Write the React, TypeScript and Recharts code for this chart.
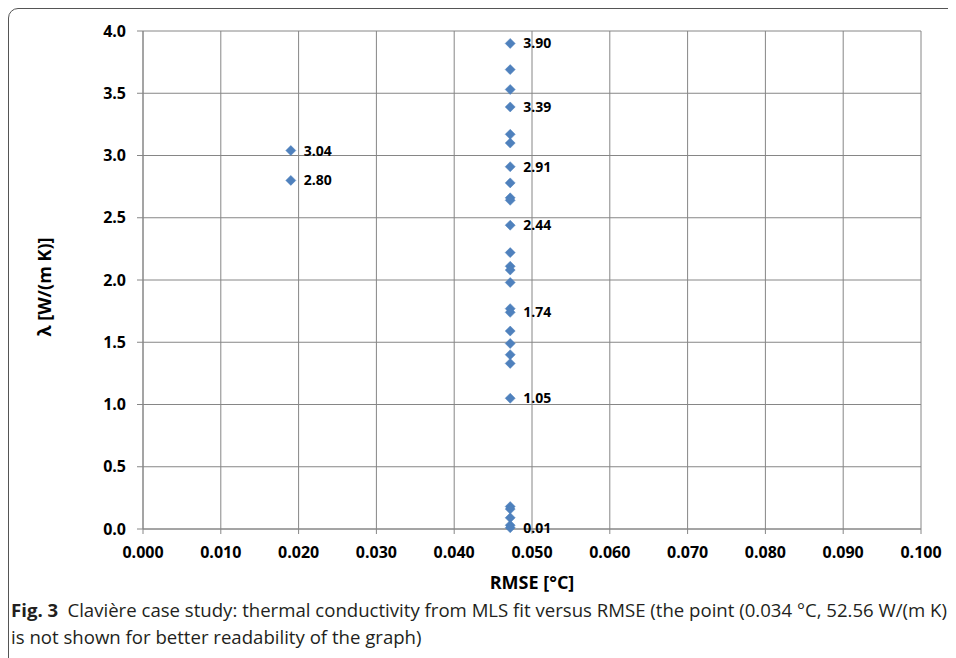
import React from "react";
import { ScatterChart, Scatter, XAxis, YAxis, CartesianGrid, Label } from "recharts";

// RMSE [°C] and lambda [W/(m K)]
const columnRmse = [
  0.0472, 0.0472, 0.0472, 0.0472, 0.0472, 0.0472, 0.0472, 0.0472, 0.0472,
  0.0472, 0.0472, 0.0472, 0.0472, 0.0472, 0.0472, 0.0472, 0.0472, 0.0472,
  0.0472, 0.0472, 0.0472, 0.0472, 0.0472, 0.0472, 0.0472, 0.0472, 0.0472,
];
const columnLambda = [
  3.9, 3.69, 3.53, 3.39, 3.17, 3.1, 2.91, 2.78, 2.66, 2.64, 2.44, 2.22, 2.11,
  2.08, 1.98, 1.77, 1.74, 1.59, 1.49, 1.4, 1.33, 1.05, 0.18, 0.16, 0.09, 0.03,
  0.01,
];
const leftRmse = [0.019, 0.019];
const leftLambda = [3.04, 2.8];

const labelledValues = [3.9, 3.39, 2.91, 2.44, 1.74, 1.05, 0.01, 3.04, 2.8];

const xTicks = [0, 0.01, 0.02, 0.03, 0.04, 0.05, 0.06, 0.07, 0.08, 0.09, 0.1];
const yTicks = [0, 0.5, 1, 1.5, 2, 2.5, 3, 3.5, 4];

const xs = [...columnRmse, ...leftRmse];
const ys = [...columnLambda, ...leftLambda];
const data = xs.map((x, i) => ({
  x,
  y: ys[i],
  label: labelledValues.includes(ys[i]) ? ys[i].toFixed(2) : "",
}));

const GRID = "#868686";
const FONT = "'Open Sans', sans-serif";
const tickStyle = { fill: "#000", fontSize: 16, fontWeight: 700, fontFamily: FONT };

const Diamond = (props: any) => {
  const { cx, cy, payload } = props;
  const r = 5;
  return (
    <g>
      <path
        d={`M${cx},${cy - r}L${cx + r},${cy}L${cx},${cy + r}L${cx - r},${cy}Z`}
        fill="#4f81bd"
        stroke="#4a7ebb"
        strokeWidth={0.5}
      />
      {payload && payload.label ? (
        <text
          x={cx + 13}
          y={cy}
          dy="0.36em"
          fill="#000"
          fontSize={14}
          fontWeight={700}
          fontFamily={FONT}
        >
          {payload.label}
        </text>
      ) : null}
    </g>
  );
};

export default function App() {
  return (
    <div style={{ position: "relative", width: 948, height: 650, overflow: "hidden" }}>
      <div
        style={{
          position: "absolute",
          left: 0,
          top: 0,
          width: 1100,
          height: 800,
          border: "1px solid #555",
          borderTopLeftRadius: 10,
          boxSizing: "border-box",
        }}
      />
      <div style={{ position: "absolute", left: 0, top: 0 }}>
        <ScatterChart
          width={948}
          height={650}
          margin={{ top: 23, right: 35, bottom: 59, left: 75 }}
        >
          <CartesianGrid stroke={GRID} strokeWidth={1} />
          <XAxis
            type="number"
            dataKey="x"
            domain={[0, 0.1]}
            ticks={xTicks}
            interval={0}
            height={70}
            tickFormatter={(v: number) => v.toFixed(3)}
            tick={tickStyle}
            tickSize={5}
            tickMargin={13}
            stroke={GRID}
            axisLine={{ stroke: GRID }}
            tickLine={{ stroke: GRID }}
          >
            <Label
              content={(p: any) => {
                const vb = p.viewBox;
                return (
                  <text
                    x={vb.x + vb.width / 2}
                    y={vb.y + 60}
                    textAnchor="middle"
                    fill="#000"
                    fontSize={18}
                    fontWeight={700}
                    fontFamily={FONT}
                  >
                    RMSE [°C]
                  </text>
                );
              }}
            />
          </XAxis>
          <YAxis
            type="number"
            dataKey="y"
            domain={[0, 4]}
            ticks={yTicks}
            interval={0}
            width={60}
            tickFormatter={(v: number) => v.toFixed(1)}
            tick={tickStyle}
            tickSize={6}
            tickMargin={11}
            stroke={GRID}
            axisLine={{ stroke: GRID }}
            tickLine={{ stroke: GRID }}
          >
            <Label
              content={(p: any) => {
                const cy = 279;
                const cx = 43;
                return (
                  <text
                    x={cx}
                    y={cy}
                    transform={`rotate(-90 ${cx} ${cy})`}
                    textAnchor="middle"
                    fill="#000"
                    fontSize={18}
                    fontWeight={700}
                    fontFamily={FONT}
                  >
                    λ [W/(m K)]
                  </text>
                );
              }}
            />
          </YAxis>
          <Scatter data={data} shape={Diamond} isAnimationActive={false} />
        </ScatterChart>
      </div>
      <div
        style={{
          position: "absolute",
          left: 3,
          top: 588,
          width: 945,
          fontFamily: FONT,
          fontSize: 18.6,
          lineHeight: "27px",
          color: "#231f20",
          whiteSpace: "nowrap",
        }}
      >
        <div>
          <b>Fig. 3</b>{"\u2002"}Clavière case study: thermal conductivity from MLS fit versus RMSE (the point (0.034 °C, 52.56 W/(m K)
        </div>
        <div>is not shown for better readability of the graph)</div>
      </div>
    </div>
  );
}
